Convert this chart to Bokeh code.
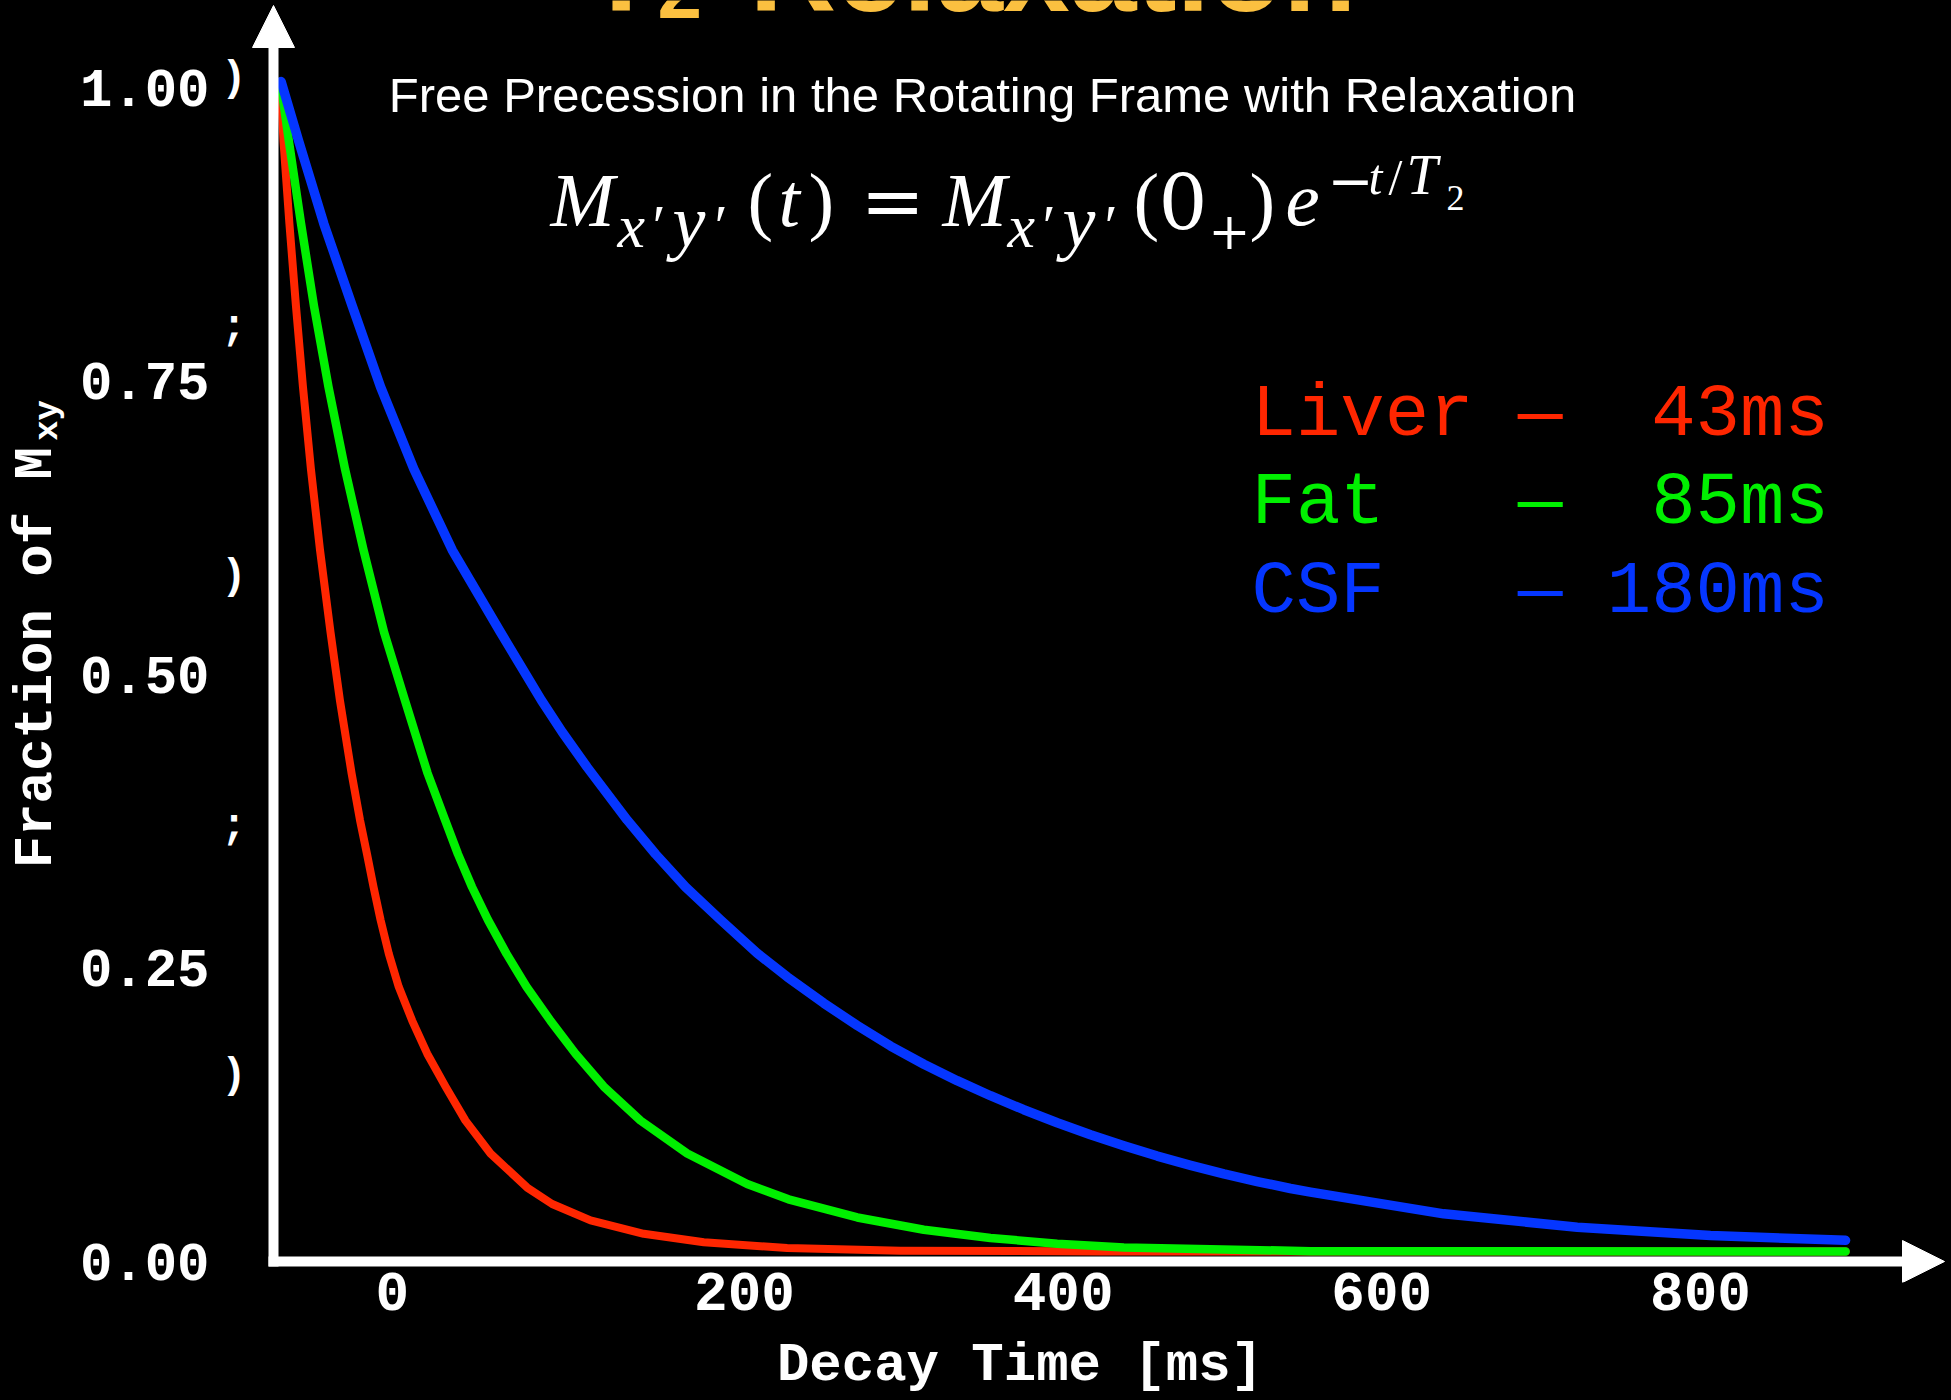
import math
from bokeh.plotting import figure
from bokeh.models import Range1d, FixedTicker, Label, Arrow, NormalHead, LinearAxis
from bokeh.embed import file_html
from bokeh.resources import INLINE

# ---------------- data ----------------
tissues = ["Liver", "Fat", "CSF"]
t2_ms = [43, 85, 180]
colors = ["#FF2600", "#00F000", "#0536FF"]

liver_t = [-91.2, -89.3, -85.6, -81.5, -77.1, -72.1, -66.4, -59.8, -53.9, -46.6, -41.3,
           -36.9, -32.8, -28.4, -23.2, -17.0, -8.5, 0.9, 12.4, 24.9, 40.6, 63.6, 79.3,
           103.4, 136.8, 174.5, 226.8, 297.9, 423.5, 891.1]
liver_v = [1.005, 0.954, 0.884, 0.814, 0.745, 0.675, 0.606, 0.536, 0.478, 0.416, 0.376,
           0.347, 0.319, 0.291, 0.262, 0.234, 0.205, 0.177, 0.149, 0.120, 0.092, 0.063, 0.049,
           0.035, 0.0236, 0.0164, 0.0115, 0.0092, 0.0086, 0.0085]

fat_t = [-91.2, -85.9, -78.3, -70.2, -61.1, -50.7, -39.1, -26.2, -13.1, 1.1, 12.1, 20.2,
         29.0, 39.0, 50.7, 63.2, 78.3, 94.0, 111.7, 134.8, 164.1, 201.7, 227.6, 270.8,
         312.6, 354.4, 396.3, 438.1, 555.3, 891.1]
fat_v = [1.005, 0.954, 0.884, 0.814, 0.745, 0.675, 0.606, 0.536, 0.478, 0.416, 0.376, 0.347,
         0.319, 0.291, 0.262, 0.234, 0.205, 0.177, 0.149, 0.120, 0.092, 0.066, 0.053, 0.0375,
         0.027, 0.0200, 0.0152, 0.0120, 0.0088, 0.0085]

csf_t = [-90.8, -79.7, -64.0, -46.2, -28.4, -7.5, 16.6, 46.9, 72.6, 85.6, 101.3, 126.4,
         144.2, 163.0, 185.0, 208.0, 226.8, 249.8, 270.8, 291.7, 312.6, 333.5, 354.4, 375.3,
         396.3, 417.2, 438.1, 459.1, 480.0, 500.9, 521.8, 542.7, 555.3, 638.9, 722.7, 806.3,
         881.6, 891.1]
csf_v = [1.005, 0.954, 0.884, 0.814, 0.745, 0.675, 0.606, 0.536, 0.478, 0.451, 0.421, 0.376,
         0.347, 0.319, 0.291, 0.2625, 0.2425, 0.220, 0.201, 0.1835, 0.168, 0.154, 0.1412, 0.1293,
         0.1182, 0.108, 0.0986, 0.0898, 0.0819, 0.0746, 0.0681, 0.0622, 0.0591, 0.0406, 0.0292,
         0.0221, 0.0185, 0.018]

curves_t = [liver_t, fat_t, csf_t]
curves_v = [liver_v, fat_v, csf_v]

x_ticks = [0, 200, 400, 600, 800]
x_tick_labels = ["0", "200", "400", "600", "800"]
y_ticks = [0, 0.25, 0.5, 0.75, 1.0]
y_tick_labels = ["0.00", "0.25", "0.50", "0.75", "1.00"]

title_text = ["T", "2", "Relaxation"]
subtitle = "Free Precession in the Rotating Frame with Relaxation"
x_label = "Decay Time [ms]"
y_label = ["Fraction of M", "xy"]
frag_labels = [")", ";", ")", ";", ")"]       # clipped remnants of a second tick column

# ---------------- layout ----------------
W, H = 1951, 1400
FL, FR, FT, FB = 250, 1951, 0, 1282              # frame edges (px)
PX_T0, PX_PER_MS = 425.3, 1.5933                 # x scale: pixel of t=0, px per ms
PX_V0, PX_PER_UNIT = 1261.0, 1174.0              # y scale: pixel of 0, px per unit
XR = ((FL - PX_T0) / PX_PER_MS, (FR - PX_T0) / PX_PER_MS)
YR = ((PX_V0 - FB) / PX_PER_UNIT, (PX_V0 - FT) / PX_PER_UNIT)


def ax(px):
    return (px - PX_T0) / PX_PER_MS


def ay(py):
    return (PX_V0 - py) / PX_PER_UNIT


p = figure(width=W, height=H, output_backend="svg", toolbar_location=None,
           x_range=Range1d(*XR), y_range=Range1d(*YR), y_axis_location=None,
           background_fill_color="black", border_fill_color="black",
           outline_line_color=None)
p.min_border_left = FL
p.min_border_right = W - FR
p.min_border_top = FT
p.min_border_bottom = H - FB
p.grid.visible = False

# curves
widths = [8, 8.5, 9.5]
for tt, vv, c, w in zip(curves_t, curves_v, colors, widths):
    p.line(tt, vv, line_color=c, line_width=w, line_cap="round", line_join="round")


def style_axis(a, size):
    a.axis_line_color = None
    a.major_tick_line_color = None
    a.minor_tick_line_color = None
    a.major_tick_out = 0
    a.major_tick_in = 0
    a.major_label_text_color = "white"
    a.major_label_text_font = "Liberation Mono"
    a.major_label_text_font_style = "bold"
    a.major_label_text_font_size = f"{size}px"
    a.axis_label_text_color = "white"
    a.axis_label_text_font = "Liberation Mono"
    a.axis_label_text_font_style = "bold"
    a.axis_label_text_font_size = "54px"


# innermost left axis: clipped remnants of a second tick column
frag_py = [78.5, 327.5, 576.5, 826.5, 1075.0]
frag_ticks = [ay(v) for v in frag_py]
frag_axis = LinearAxis(ticker=FixedTicker(ticks=frag_ticks),
                       major_label_overrides={t: s for t, s in zip(frag_ticks, frag_labels)})
style_axis(frag_axis, 42)
frag_axis.major_label_standoff = 4
p.add_layout(frag_axis, "left")

# main y axis
y_axis = LinearAxis(ticker=FixedTicker(ticks=y_ticks),
                    major_label_overrides={t: s for t, s in zip(y_ticks, y_tick_labels)})
style_axis(y_axis, 54)
y_axis.major_label_standoff = 9
p.add_layout(y_axis, "left")

# outer axis carrying the y title "Fraction of M" with its "xy" subscript
xy_pos = ay(399.5)
title_axis = LinearAxis(ticker=FixedTicker(ticks=[xy_pos]),
                        major_label_overrides={xy_pos: y_label[1]},
                        major_label_orientation=math.pi / 2,
                        axis_label=y_label[0] + "\u00a0")
style_axis(title_axis, 34)
title_axis.major_label_standoff = 29
title_axis.axis_label_standoff = -60
p.add_layout(title_axis, "left")

# x axis
xa = p.xaxis[0]
style_axis(xa, 56)
xa.ticker = FixedTicker(ticks=x_ticks)
xa.major_label_overrides = {t: (s + "\u00a0\u00a0" if len(s) == 1 else s)
                            for t, s in zip(x_ticks, x_tick_labels)}
xa.major_label_standoff = -20
xa.axis_label = x_label + "\u00a0" * 5
xa.axis_label_standoff = 5

# axis lines with arrow heads
p.add_layout(Arrow(x_start=ax(273), y_start=ay(1266), x_end=ax(273), y_end=ay(5),
                   line_color="white", line_width=10,
                   end=NormalHead(size=42, fill_color="white", line_color="white", line_width=1)))
p.add_layout(Arrow(x_start=ax(268), y_start=ay(1261), x_end=ax(1944), y_end=ay(1261),
                   line_color="white", line_width=10,
                   end=NormalHead(size=42, fill_color="white", line_color="white", line_width=1)))


def label(text, px, base_py, size, color="white", font="Liberation Sans", style="normal",
          align="left", k=0.35):
    p.add_layout(Label(x=ax(px), y=ay(base_py - k * size), text=text, text_font=font,
                       text_font_size=f"{size}px", text_font_style=style,
                       text_color=color, text_align=align, text_baseline="alphabetic"))


# title (mostly above the picture)
TC = "#FBC040"
label(title_text[0], 584, 10, 120, TC, style="bold")
label(title_text[1], 657, 18, 80, TC, style="bold")
label(title_text[2], 749, 10, 120, TC, style="bold")

# subtitle
label(subtitle, 982, 112, 49, "white", align="center")

# equation  M_{x'y'}(t) = M_{x'y'}(0_+) e^{-t/T_2}
SERIF = "Liberation Serif"
DJ = "DejaVu Serif"
eq = [
    ("M", 550, 228, 77, SERIF, "italic"),
    ("x", 617, 248, 62, SERIF, "italic"),
    ("\u2032", 652, 248, 60, SERIF, "normal"),
    ("y", 672, 248, 74, SERIF, "italic"),
    ("\u2032", 714, 248, 60, SERIF, "normal"),
    ("(", 747, 228, 77, SERIF, "normal"),
    ("t", 778, 228, 77, SERIF, "italic"),
    (")", 808, 228, 77, SERIF, "normal"),
    ("=", 860, 228, 77, DJ, "normal"),
    ("M", 942, 228, 77, SERIF, "italic"),
    ("x", 1007, 248, 62, SERIF, "italic"),
    ("\u2032", 1042, 248, 60, SERIF, "normal"),
    ("y", 1062, 248, 74, SERIF, "italic"),
    ("\u2032", 1104, 248, 60, SERIF, "normal"),
    ("(", 1133, 228, 77, SERIF, "normal"),
    ("0", 1158, 228, 77, DJ, "normal"),
    ("+", 1208, 248, 50, DJ, "normal"),
    (")", 1249, 228, 77, SERIF, "normal"),
    ("e", 1285, 228, 77, SERIF, "italic"),
    ("\u2212", 1327, 200, 55, DJ, "normal"),
    ("t", 1368, 195, 50, SERIF, "italic"),
    ("/", 1388, 195, 50, SERIF, "normal"),
    ("T", 1406, 195, 56, SERIF, "italic"),
    ("2", 1446, 211, 36, SERIF, "normal"),
]
for txt, px, py, sz, fnt, sty in eq:
    label(txt, px, py, sz, "white", font=fnt, style=sty, k=0.37)

# legend-like text block (monospace)
row_y = [440, 528, 617]
for name, t2, c, ry in zip(tissues, t2_ms, colors, row_y):
    s = name.ljust(6) + "\u2014" + f"{t2}ms".rjust(6)
    label(s.replace(" ", "\u00a0"), 1251, ry, 74, c, font="Liberation Mono")

html = file_html(p, INLINE)
html = html.replace("</head>", "<style>html, body { background-color: #000000; }</style></head>", 1)
open("out.html", "w").write(html)
